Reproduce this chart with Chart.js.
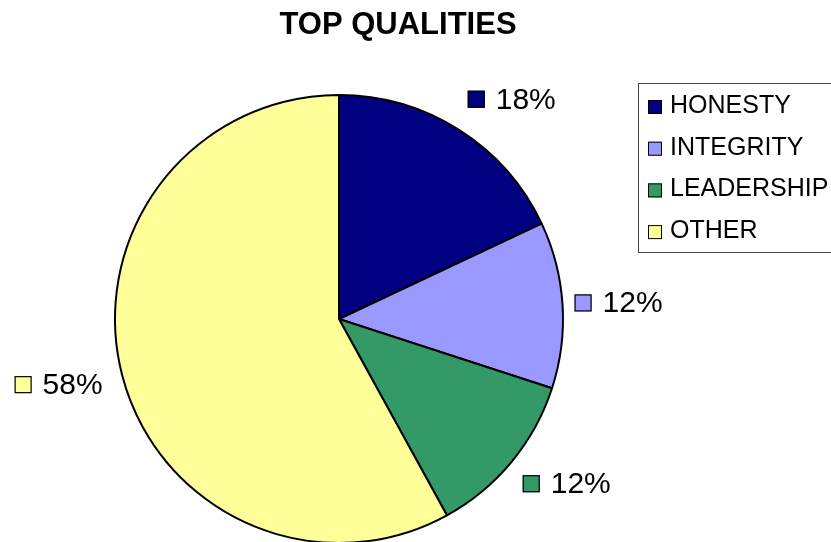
<!DOCTYPE html>
<html>
<head>
<meta charset="utf-8">
<script src="https://cdn.jsdelivr.net/npm/chart.js@4.4.0/dist/chart.umd.min.js"></script>
<style>
html,body{margin:0;padding:0;background:#fff;overflow:hidden;}
#wrap{position:relative;width:831px;height:560px;}
</style>
</head>
<body>
<div id="wrap"><canvas id="c"></canvas></div>
<script>
const chartTitle = 'TOP QUALITIES';
const categories = ['HONESTY', 'INTEGRITY', 'LEADERSHIP', 'OTHER'];
const values = [18, 12, 12, 58];
const colors = ['#000080', '#9999FF', '#339966', '#FFFF99'];

const FONT = '"Liberation Sans", Arial, Helvetica, sans-serif';

const overlay = {
  id: 'overlay',
  afterDraw(chart) {
    const ctx = chart.ctx;
    ctx.save();
    // title
    ctx.fillStyle = '#000';
    ctx.font = 'bold 31px ' + FONT;
    ctx.textAlign = 'center';
    ctx.textBaseline = 'middle';
    ctx.fillText(chartTitle, 398, 25);

    // legend
    ctx.strokeStyle = '#444';
    ctx.lineWidth = 1;
    ctx.strokeRect(638.5, 83.5, 260, 169);
    ctx.font = '25px ' + FONT;
    ctx.textAlign = 'left';
    ctx.textBaseline = 'alphabetic';
    categories.forEach((c, i) => {
      const base = 113 + i * 41.7;
      ctx.fillStyle = colors[i];
      ctx.fillRect(648, base - 13, 14, 14);
      ctx.strokeStyle = '#000';
      ctx.strokeRect(648.5, base - 12.5, 13, 13);
      ctx.fillStyle = '#000';
      ctx.fillText(c, 670, base);
    });

    // data labels
    const meta = chart.getDatasetMeta(0);
    const total = values.reduce((a, b) => a + b, 0);
    ctx.font = '30px ' + FONT;
    ctx.textBaseline = 'middle';
    meta.data.forEach((arc, i) => {
      const p = arc.getProps(['x', 'y', 'startAngle', 'endAngle', 'outerRadius'], true);
      const mid = (p.startAngle + p.endAngle) / 2;
      const s = Math.cos(mid);      // horizontal direction
      const r = p.outerRadius + (s >= 0 ? 18 - 6 * s * s : 20);
      const px = p.x + Math.cos(mid) * r;
      const py = p.y + Math.sin(mid) * r;
      const cy = py + Math.sin(mid) * 20;
      const txt = Math.round(values[i] / total * 100) + '%';
      const tw = ctx.measureText(txt).width;
      const sq = 17, gap = 11;
      const w = sq + gap + tw;
      const left = s >= 0 ? px : px - w;
      ctx.fillStyle = colors[i];
      ctx.fillRect(left, cy - sq / 2, sq, sq);
      ctx.strokeStyle = '#000';
      ctx.lineWidth = 1.2;
      ctx.strokeRect(left + 0.5, cy - sq / 2 + 0.5, sq - 1, sq - 1);
      ctx.fillStyle = '#000';
      ctx.textAlign = 'left';
      ctx.fillText(txt, left + sq + gap, cy + 1);
    });
    ctx.restore();
  }
};

new Chart(document.getElementById('c'), {
  type: 'pie',
  data: {
    labels: categories,
    datasets: [{
      data: values,
      backgroundColor: colors,
      borderColor: '#000',
      borderWidth: 2
    }]
  },
  options: {
    responsive: true,
    maintainAspectRatio: false,
    devicePixelRatio: 1,
    animation: false,
    layout: { padding: { left: 114, right: 267, top: 94, bottom: 16 } },
    plugins: {
      legend: { display: false },
      title: { display: false },
      tooltip: { enabled: false }
    }
  },
  plugins: [overlay]
});
</script>
</body>
</html>
